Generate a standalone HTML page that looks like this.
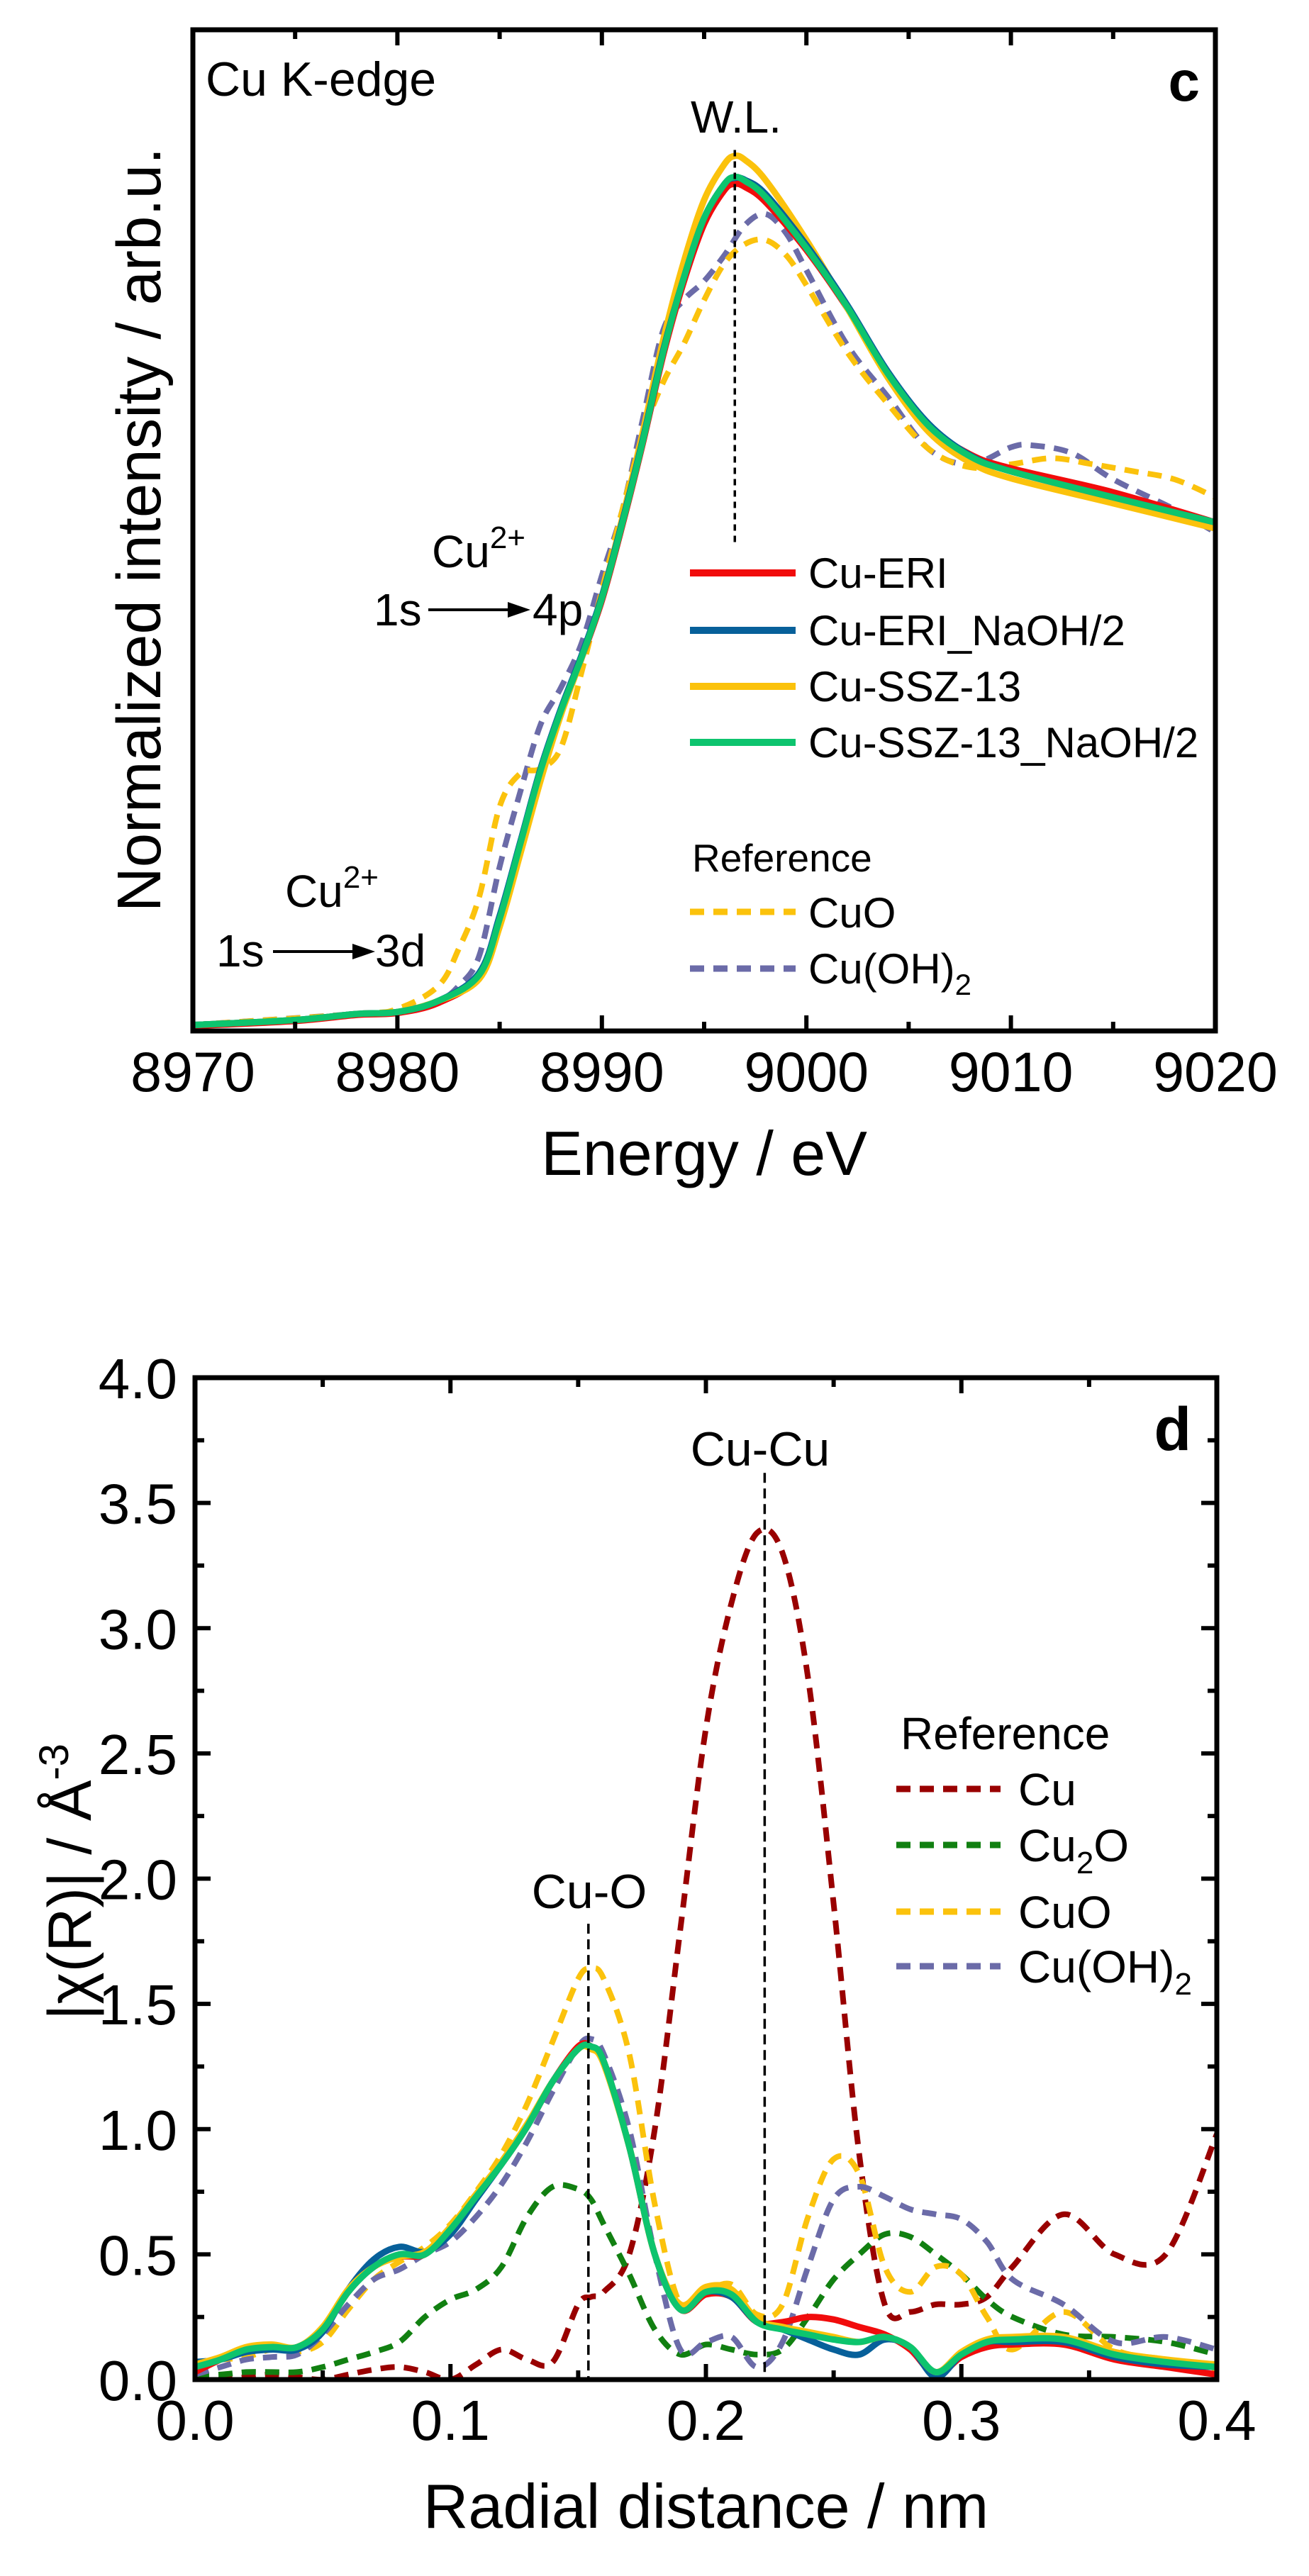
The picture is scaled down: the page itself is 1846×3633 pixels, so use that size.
<!DOCTYPE html>
<html><head><meta charset="utf-8">
<style>
html,body{margin:0;padding:0;background:#fff;}
svg{display:block;font-family:"Liberation Sans",Arial,sans-serif;}
</style></head>
<body>
<svg id="fig" width="1846" height="3633" viewBox="0 0 1846 3633" xmlns="http://www.w3.org/2000/svg">
<rect width="1846" height="3633" fill="#fff"/>
<g id="pc"></g>
<g id="pd"></g>
</svg>
<script>
// ---------- Panel c data ----------
const cEnergy = [8970,8975,8978,8980,8982,8984,8985,8986,8987,8988,8989,8990,8991,8992,8993,8994,8995,8996,8996.5,8997,8998,9000,9002,9004,9006,9008,9010,9015,9020];
const cGreen  = [.006,.011,.017,.019,.030,.056,.112,.186,.260,.320,.373,.432,.507,.589,.678,.752,.812,.846,.853,.849,.833,.782,.723,.656,.604,.574,.559,.533,.508];
const cBlue   = [.006,.011,.017,.019,.030,.058,.115,.188,.262,.322,.375,.434,.509,.591,.680,.752,.812,.846,.852,.850,.836,.785,.725,.658,.606,.575,.559,.533,.508];
const cRed    = [.005,.010,.016,.018,.028,.054,.108,.180,.255,.318,.372,.430,.505,.587,.675,.748,.806,.840,.846,.843,.828,.780,.722,.656,.604,.576,.562,.538,.508];
const cYellow = [.006,.011,.017,.019,.030,.052,.104,.176,.250,.316,.372,.434,.512,.598,.690,.768,.830,.866,.874,.870,.850,.790,.722,.652,.598,.568,.552,.527,.502];
const cCuOE   = [8970,8978,8980,8982,8983,8984,8985,8986,8987,8988,8989,8990,8991,8992,8993,8994,8995,8996,8997,8998,8999,9000,9002,9004,9006,9008,9010,9012,9014,9016,9018,9020];
const cCuO    = [.006,.017,.022,.045,.082,.134,.224,.257,.262,.283,.358,.440,.520,.596,.648,.686,.730,.767,.786,.790,.775,.745,.678,.626,.581,.563,.566,.572,.566,.559,.551,.533];
const cOHE    = [8970,8978,8980,8982,8983,8984,8985,8986,8987,8988,8989,8990,8991,8992,8993,8994,8995,8996,8997,8998,8999,9000,9002,9004,9006,9008,9010,9011,9013,9015,9018,9020];
const cCuOH   = [.006,.017,.020,.030,.045,.075,.164,.238,.306,.343,.387,.455,.520,.611,.700,.730,.749,.775,.805,.816,.797,.760,.685,.633,.581,.566,.583,.585,.577,.551,.521,.498];
const cXTicks = [8970,8980,8990,9000,9010,9020];

// ---------- Panel d data ----------
const dR = [0,.01,.02,.03,.04,.05,.06,.07,.08,.09,.10,.11,.12,.13,.14,.15,.155,.16,.17,.18,.19,.20,.21,.22,.23,.24,.25,.26,.27,.28,.29,.30,.31,.32,.34,.36,.38,.40];
const dGreen  = [.05,.08,.12,.13,.13,.20,.35,.45,.50,.50,.60,.73,.86,1.01,1.19,1.32,1.33,1.27,.93,.50,.28,.35,.34,.23,.20,.18,.16,.15,.17,.13,.03,.10,.15,.16,.16,.10,.07,.05];
const dBlue   = [.07,.08,.11,.12,.12,.19,.36,.48,.53,.51,.58,.72,.86,1.01,1.19,1.32,1.33,1.27,.93,.50,.29,.35,.33,.23,.20,.16,.12,.10,.16,.13,.01,.10,.15,.15,.15,.09,.06,.05];
const dRed    = [.03,.08,.12,.13,.13,.20,.35,.45,.49,.50,.60,.73,.86,1.01,1.19,1.33,1.33,1.27,.93,.50,.28,.34,.33,.23,.23,.25,.24,.21,.18,.12,.02,.09,.13,.14,.14,.08,.05,.02];
const dYellow = [.06,.09,.13,.14,.13,.21,.36,.45,.49,.51,.61,.74,.87,1.02,1.19,1.32,1.32,1.26,.93,.50,.30,.37,.36,.24,.21,.19,.17,.15,.17,.13,.03,.11,.16,.17,.17,.11,.08,.06];
const dCu     = [0,0,.01,.02,.01,0,.02,.04,.05,.03,0,.06,.12,.08,.07,.30,.33,.35,.50,1.00,1.80,2.60,3.10,3.38,3.30,2.80,1.90,.90,.30,.27,.30,.30,.33,.45,.66,.50,.50,.98];
const dCu2O   = [.02,.02,.03,.03,.03,.05,.08,.11,.15,.25,.32,.36,.45,.65,.77,.76,.72,.62,.42,.20,.10,.14,.12,.10,.12,.25,.40,.50,.58,.57,.50,.42,.32,.25,.18,.17,.15,.10];
const dCuO    = [.07,.08,.09,.12,.11,.15,.28,.40,.47,.53,.62,.75,.90,1.10,1.35,1.60,1.64,1.60,1.30,.70,.30,.35,.38,.26,.30,.65,.88,.82,.45,.35,.45,.42,.25,.12,.27,.12,.08,.04];
const dCuOH   = [.02,.05,.08,.09,.10,.18,.30,.40,.44,.50,.55,.65,.78,.95,1.15,1.33,1.36,1.30,1.00,.50,.12,.15,.17,.05,.15,.45,.72,.77,.73,.68,.66,.64,.55,.40,.30,.15,.17,.12];
const dXTicks = [0,0.1,0.2,0.3,0.4];
const dYTicks = [0,0.5,1.0,1.5,2.0,2.5,3.0,3.5,4.0];

const NS="http://www.w3.org/2000/svg";
function mk(parent,tag,attrs,name,text){
  const e=document.createElementNS(NS,tag);
  for(const k in attrs) e.setAttribute(k,attrs[k]);
  
  
  if(text!==undefined) e.textContent=text;
  parent.appendChild(e); return e;
}
function smoothPath(pts){
  let d=`M${pts[0][0].toFixed(1)},${pts[0][1].toFixed(1)}`;
  for(let i=0;i<pts.length-1;i++){
    const p0=pts[Math.max(0,i-1)],p1=pts[i],p2=pts[i+1],p3=pts[Math.min(pts.length-1,i+2)];
    const c1=[p1[0]+(p2[0]-p0[0])/6,p1[1]+(p2[1]-p0[1])/6];
    const c2=[p2[0]-(p3[0]-p1[0])/6,p2[1]-(p3[1]-p1[1])/6];
    d+=`C${c1[0].toFixed(1)},${c1[1].toFixed(1)} ${c2[0].toFixed(1)},${c2[1].toFixed(1)} ${p2[0].toFixed(1)},${p2[1].toFixed(1)}`;
  }
  return d;
}
const RED="#f10c0c",BLUE="#07609a",YEL="#fbc20c",GRN="#0dc46e",PUR="#6b6ba8",DRED="#990000",DGRN="#118011";
const SOLW=9, DASHW=8, DASH='20 13';

// ===== Panel c =====
const pc=document.getElementById('pc');
const cL=272,cR=1714,cT=42,cB=1454;
const cx=e=>cL+(e-8970)/50*(cR-cL);
const cy=v=>cB-v*(cB-cT);
const cClip=mk(pc,'clipPath',{id:'cclip'},'clip-c');
mk(cClip,'rect',{x:cL,y:cT,width:cR-cL,height:cB-cT},'clip-rect-c');
const cg=mk(pc,'g',{'clip-path':'url(#cclip)'},'series-group-c');
function cL2(xs,ys,col,dash,name){
  mk(cg,'path',{d:smoothPath(xs.map((x,i)=>[cx(x),cy(ys[i])])),fill:'none',stroke:col,'stroke-width':dash?DASHW:SOLW,'stroke-dasharray':dash?DASH:'none','stroke-linejoin':'round'},name);
}
cL2(cOHE,cCuOH,PUR,true,'series-cuoh2-ref');
cL2(cCuOE,cCuO,YEL,true,'series-cuo-ref');
cL2(cEnergy,cRed,RED,false,'series-cu-eri');
cL2(cEnergy,cYellow,YEL,false,'series-cu-ssz-13');
cL2(cEnergy,cBlue,BLUE,false,'series-cu-eri-naoh');
cL2(cEnergy,cGreen,GRN,false,'series-cu-ssz-13-naoh');
mk(pc,'line',{x1:cx(8996.5),x2:cx(8996.5),y1:cy(0.88),y2:cy(0.488),stroke:'#000','stroke-width':3.5,'stroke-dasharray':'9 7'},'white-line-marker');
mk(pc,'rect',{x:cL,y:cT,width:cR-cL,height:cB-cT,fill:'none',stroke:'#000','stroke-width':7},'plot-frame-c');
for(let e=8970;e<=9020;e+=5){
  const maj=(e%10===0), len=maj?22:13;
  mk(pc,'line',{x1:cx(e),x2:cx(e),y1:cB,y2:cB-len,stroke:'#000','stroke-width':6},'x-tick');
  mk(pc,'line',{x1:cx(e),x2:cx(e),y1:cT,y2:cT+len,stroke:'#000','stroke-width':6},'x-tick-top');
}
cXTicks.forEach(t=>mk(pc,'text',{x:cx(t),y:1539,'font-size':79,'text-anchor':'middle'},'x-tick-label',String(t)));
mk(pc,'text',{x:(cL+cR)/2,y:1657,'font-size':88,'text-anchor':'middle'},'x-axis-title','Energy / eV');
mk(pc,'text',{x:0,y:0,'font-size':87,'text-anchor':'middle',transform:'translate(226,747) rotate(-90)'},'y-axis-title','Normalized intensity / arb.u.');
mk(pc,'text',{x:290,y:135,'font-size':68},'edge-label','Cu K-edge');
mk(pc,'text',{x:1692,y:142,'font-size':80,'font-weight':'bold','text-anchor':'end'},'panel-label-c','c');
mk(pc,'text',{x:1038,y:187,'font-size':64,'text-anchor':'middle'},'wl-label','W.L.');
function cuLabel(x,y,name){const t=mk(pc,'text',{x:x,y:y,'font-size':64},name,'Cu');const s=document.createElementNS(NS,'tspan');s.setAttribute('dy','-27');s.setAttribute('font-size','44');s.textContent='2+';t.appendChild(s);}
cuLabel(609,800,'cu2plus-label-4p');
mk(pc,'text',{x:527,y:882,'font-size':64},'transition-1s-4p','1s');
mk(pc,'line',{x1:604,x2:720,y1:860,y2:860,stroke:'#000','stroke-width':4},'arrow-4p');
mk(pc,'polygon',{points:'748,860 716,849 716,871',fill:'#000'},'arrowhead-4p');
mk(pc,'text',{x:751,y:882,'font-size':64},'transition-4p','4p');
cuLabel(402,1279,'cu2plus-label-3d');
mk(pc,'text',{x:305,y:1363,'font-size':64},'transition-1s-3d','1s');
mk(pc,'line',{x1:385,x2:500,y1:1342,y2:1342,stroke:'#000','stroke-width':4},'arrow-3d');
mk(pc,'polygon',{points:'529,1342 497,1331 497,1353',fill:'#000'},'arrowhead-3d');
mk(pc,'text',{x:529,y:1363,'font-size':64},'transition-3d','3d');
const cLeg=[['Cu-ERI',RED,808],['Cu-ERI_NaOH/2',BLUE,889],['Cu-SSZ-13',YEL,968],['Cu-SSZ-13_NaOH/2',GRN,1047]];
cLeg.forEach(([t,col,y])=>{
  mk(pc,'line',{x1:973,x2:1122,y1:y,y2:y,stroke:col,'stroke-width':10},'legend-line');
  mk(pc,'text',{x:1140,y:y+21,'font-size':60},'legend-entry',t);
});
mk(pc,'text',{x:976,y:1229,'font-size':55},'legend-reference-title','Reference');
mk(pc,'line',{x1:973,x2:1122,y1:1286,y2:1286,stroke:YEL,'stroke-width':9,'stroke-dasharray':DASH},'legend-line-cuo');
mk(pc,'text',{x:1140,y:1308,'font-size':60},'legend-entry-cuo','CuO');
mk(pc,'line',{x1:973,x2:1122,y1:1366,y2:1366,stroke:PUR,'stroke-width':9,'stroke-dasharray':DASH},'legend-line-cuoh2');
(function(){const t=mk(pc,'text',{x:1140,y:1387,'font-size':60},'legend-entry-cuoh2','Cu(OH)');const s=document.createElementNS(NS,'tspan');s.setAttribute('dy','16');s.setAttribute('font-size','42');s.textContent='2';t.appendChild(s);})();

// ===== Panel d =====
const pd=document.getElementById('pd');
const dL=275,dRt=1716,dT=1943,dB=3356;
const dx=r=>dL+r/0.4*(dRt-dL);
const dy=v=>dB-v/4*(dB-dT);
const dClip=mk(pd,'clipPath',{id:'dclip'},'clip-d');
mk(dClip,'rect',{x:dL,y:dT,width:dRt-dL,height:dB-dT},'clip-rect-d');
const dg=mk(pd,'g',{'clip-path':'url(#dclip)'},'series-group-d');
function dLine(ys,col,dash,name){
  mk(dg,'path',{d:smoothPath(dR.map((r,i)=>[dx(r),dy(ys[i])])),fill:'none',stroke:col,'stroke-width':dash?DASHW:SOLW,'stroke-dasharray':dash?DASH:'none','stroke-linejoin':'round'},name);
}
dLine(dCu,DRED,true,'series-cu-ref');
dLine(dCu2O,DGRN,true,'series-cu2o-ref');
dLine(dCuO,YEL,true,'series-cuo-ref');
dLine(dCuOH,PUR,true,'series-cuoh2-ref');
dLine(dRed,RED,false,'series-cu-eri');
dLine(dBlue,BLUE,false,'series-cu-eri-naoh');
dLine(dYellow,YEL,false,'series-cu-ssz-13');
dLine(dGreen,GRN,false,'series-cu-ssz-13-naoh');
mk(pd,'line',{x1:dx(0.154),x2:dx(0.154),y1:dy(1.82),y2:dB,stroke:'#000','stroke-width':3.5,'stroke-dasharray':'14 8'},'cu-o-marker');
mk(pd,'line',{x1:dx(0.223),x2:dx(0.223),y1:dy(3.62),y2:dB,stroke:'#000','stroke-width':3.5,'stroke-dasharray':'14 8'},'cu-cu-marker');
mk(pd,'rect',{x:dL,y:dT,width:dRt-dL,height:dB-dT,fill:'none',stroke:'#000','stroke-width':7},'plot-frame-d');
for(let i=0;i<=8;i++){
  const r=i*0.05,len=(i%2===0)?22:13;
  mk(pd,'line',{x1:dx(r),x2:dx(r),y1:dB,y2:dB-len,stroke:'#000','stroke-width':6},'x-tick');
  mk(pd,'line',{x1:dx(r),x2:dx(r),y1:dT,y2:dT+len,stroke:'#000','stroke-width':6},'x-tick-top');
}
for(let i=0;i<=16;i++){
  const v=i*0.25,len=(i%2===0)?22:13;
  mk(pd,'line',{x1:dL,x2:dL+len,y1:dy(v),y2:dy(v),stroke:'#000','stroke-width':6},'y-tick');
  mk(pd,'line',{x1:dRt,x2:dRt-len,y1:dy(v),y2:dy(v),stroke:'#000','stroke-width':6},'y-tick-right');
}
dXTicks.forEach(t=>mk(pd,'text',{x:dx(t),y:3441,'font-size':80,'text-anchor':'middle'},'x-tick-label',t.toFixed(1)));
dYTicks.forEach(t=>mk(pd,'text',{x:250,y:dy(t)+29,'font-size':80,'text-anchor':'end'},'y-tick-label',t.toFixed(1)));
mk(pd,'text',{x:(dL+dRt)/2,y:3565,'font-size':88,'text-anchor':'middle'},'x-axis-title','Radial distance / nm');
(function(){const t=mk(pd,'text',{x:0,y:0,'font-size':86,'text-anchor':'middle',transform:'translate(128,2654) rotate(-90)'},'y-axis-title','|χ(R)| / Å');const s=document.createElementNS(NS,'tspan');s.setAttribute('dy','-32');s.setAttribute('font-size','58');s.textContent='-3';t.appendChild(s);})();
mk(pd,'text',{x:1680,y:2045,'font-size':86,'font-weight':'bold','text-anchor':'end'},'panel-label-d','d');
mk(pd,'text',{x:1072,y:2067,'font-size':68,'text-anchor':'middle'},'cu-cu-label','Cu-Cu');
mk(pd,'text',{x:831,y:2691,'font-size':68,'text-anchor':'middle'},'cu-o-label','Cu-O');
mk(pd,'text',{x:1270,y:2467,'font-size':64},'legend-reference-title','Reference');
const dLeg=[['Cu',DRED,2523,''],['Cu',DGRN,2602,'2O'],['CuO',YEL,2696,''],['Cu(OH)',PUR,2773,'2']];
dLeg.forEach(([t,col,y,sub])=>{
  mk(pd,'line',{x1:1264,x2:1411,y1:y,y2:y,stroke:col,'stroke-width':9,'stroke-dasharray':DASH},'legend-line');
  const te=mk(pd,'text',{x:1436,y:y+23,'font-size':64},'legend-entry',t);
  if(sub==='2O'){const s=document.createElementNS(NS,'tspan');s.setAttribute('dy','17');s.setAttribute('font-size','44');s.textContent='2';te.appendChild(s);const s2=document.createElementNS(NS,'tspan');s2.setAttribute('dy','-17');s2.textContent='O';te.appendChild(s2);}
  else if(sub==='2'){const s=document.createElementNS(NS,'tspan');s.setAttribute('dy','17');s.setAttribute('font-size','44');s.textContent='2';te.appendChild(s);}
});
</script>
</body></html>
